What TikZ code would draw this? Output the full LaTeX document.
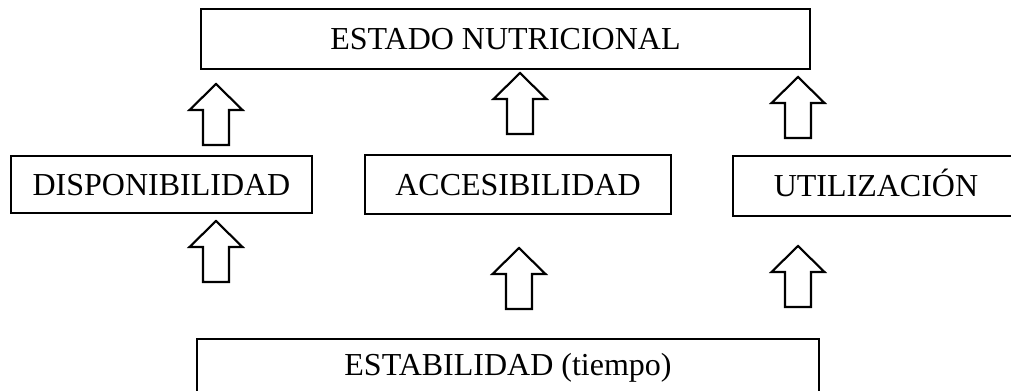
\documentclass[tikz,border=0pt]{standalone}
\usepackage{fontspec}
\setmainfont{Liberation Serif}
\usepackage{tikz}
\tikzset{factor/.style={draw, line width=1.6pt, inner sep=0pt, text height=15.9pt, text depth=0pt, font=\fontsize{24}{28}\selectfont}}
\tikzset{blockarrow/.style={draw, line width=1.6pt, line join=miter}}
\newcommand{\upblock}{-- ++(13,0) -- ++(0,-35) -- ++(13.5,0) -- ++(-26.5,-26) -- ++(-26.5,26) -- ++(13.5,0) -- ++(0,35) -- cycle}

\begin{document}
\begin{tikzpicture}[x=0.75pt, y=-0.75pt]
\clip (0,0) rectangle (1011,390);
\node[factor, minimum width=456.75pt, minimum height=45pt] (estado) at (505.5,39) {ESTADO NUTRICIONAL};
  \node[factor, minimum width=225.75pt, minimum height=42.75pt] (disp) at (161.5,184.5) {DISPONIBILIDAD};
  \node[factor, minimum width=229.5pt, minimum height=44.25pt] (acces) at (518,184.5) {ACCESIBILIDAD};
  \node[factor, minimum width=214.5pt, minimum height=45pt] (util) at (876,186) {UTILIZACIÓN};
\node[factor, text depth=4.5pt, minimum width=466.5pt, minimum height=42.75pt] (estab) at (508,367.5) {ESTABILIDAD (tiempo)};
\draw[blockarrow] (216,145) \upblock;
\draw[blockarrow] (520,134) \upblock;
\draw[blockarrow] (798,138) \upblock;
\draw[blockarrow] (216,282) \upblock;
\draw[blockarrow] (519,309) \upblock;
\draw[blockarrow] (798,307) \upblock;
\end{tikzpicture}
\end{document}
